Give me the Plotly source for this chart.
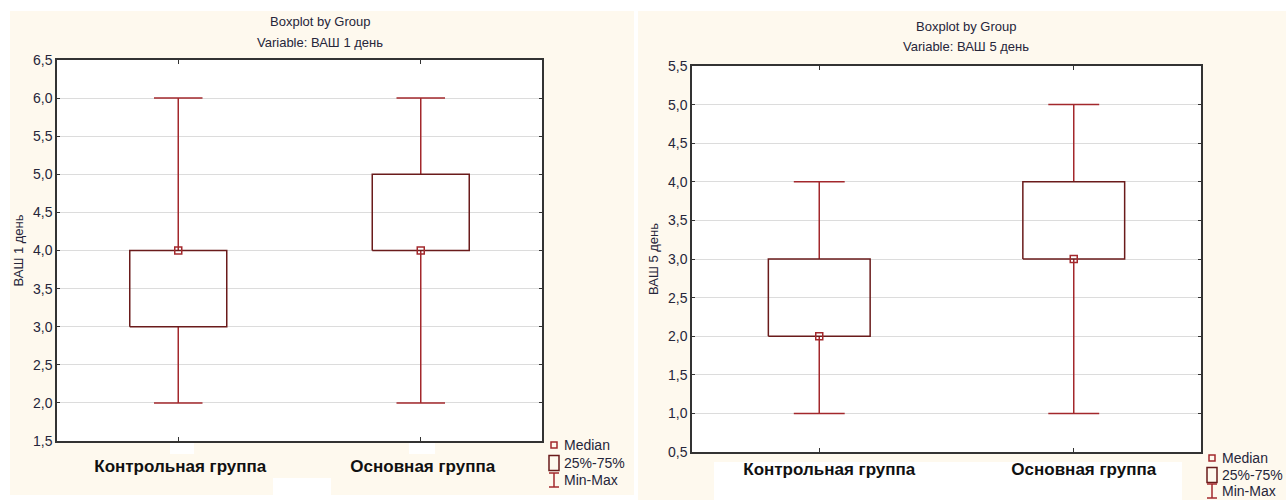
import plotly.graph_objects as go

# ---------------- data ----------------
groups = ["Контрольная группа", "Основная группа"]

# ВАШ 1 день
v1_min = [2, 2]
v1_q1 = [3, 4]
v1_med = [4, 4]
v1_q3 = [4, 5]
v1_max = [6, 6]

# ВАШ 5 день
v5_min = [1, 1]
v5_q1 = [2, 3]
v5_med = [2, 3]
v5_q3 = [3, 4]
v5_max = [4, 5]

y1_ticks = [1.5, 2.0, 2.5, 3.0, 3.5, 4.0, 4.5, 5.0, 5.5, 6.0, 6.5]
y5_ticks = [0.5, 1.0, 1.5, 2.0, 2.5, 3.0, 3.5, 4.0, 4.5, 5.0, 5.5]

# ---------------- style ----------------
W, H = 1288, 500
CREAM = "#FEF9EE"
WHISK = "#A3282C"
BOXC = "#6A1B1B"
AXC = "#333333"
GRID = "#DCDCDC"
TXT = "#26263A"
FONT = "Liberation Sans, Arial, sans-serif"
BOX_HALF = 0.2
CAP_HALF = 0.1


def px(x):
    return x / W


def py(y):
    return 1 - y / H


def fmt(v):
    return f"{v:.1f}".replace(".", ",")


fig = go.Figure()


def add_boxes(xa, ya, mins, q1s, meds, q3s, maxs):
    wx, wy, cx, cy, bx, by = [], [], [], [], [], []
    for i in range(len(groups)):
        wx += [i, i, None, i, i, None]
        wy += [mins[i], q1s[i], None, q3s[i], maxs[i], None]
        cx += [i - CAP_HALF, i + CAP_HALF, None, i - CAP_HALF, i + CAP_HALF, None]
        cy += [mins[i], mins[i], None, maxs[i], maxs[i], None]
        bx += [i - BOX_HALF, i + BOX_HALF, i + BOX_HALF, i - BOX_HALF, i - BOX_HALF, None]
        by += [q1s[i], q1s[i], q3s[i], q3s[i], q1s[i], None]
    common = dict(xaxis=xa, yaxis=ya, mode="lines", showlegend=False, hoverinfo="skip")
    fig.add_trace(go.Scatter(x=wx, y=wy, line=dict(color=WHISK, width=1.5), **common))
    fig.add_trace(go.Scatter(x=cx, y=cy, line=dict(color=WHISK, width=1.5), **common))
    fig.add_trace(go.Scatter(x=bx, y=by, line=dict(color=BOXC, width=1.5), **common))
    fig.add_trace(go.Scatter(
        x=list(range(len(groups))), y=meds, xaxis=xa, yaxis=ya, mode="markers",
        marker=dict(symbol="square-open", size=7, color=WHISK, line=dict(width=1.5)),
        showlegend=False, hoverinfo="skip"))


add_boxes("x", "y", v1_min, v1_q1, v1_med, v1_q3, v1_max)
add_boxes("x2", "y2", v5_min, v5_q1, v5_med, v5_q3, v5_max)

xcommon = dict(
    range=[-0.5, 1.5], tickvals=list(range(len(groups))), ticktext=groups,
    ticks="inside", ticklen=4, tickcolor=AXC, showline=True, linecolor=AXC,
    linewidth=1.5, mirror="ticks", showgrid=False, zeroline=False,
    tickfont=dict(family=FONT, size=17, color="#111111", weight="bold"),
    fixedrange=True, automargin=False,
)
ycommon = dict(
    dtick=0.5, ticks="inside", ticklen=3, tickcolor=AXC, showline=True,
    linecolor=AXC, linewidth=1.5, mirror="ticks", showgrid=True,
    gridcolor=GRID, gridwidth=1, zeroline=False,
    tickfont=dict(family=FONT, size=14, color=TXT), fixedrange=True,
    automargin=False,
)

fig.update_layout(
    width=W, height=H, autosize=False, margin=dict(l=0, r=0, t=0, b=0, pad=0),
    paper_bgcolor="white", plot_bgcolor="white", showlegend=False,
    xaxis=dict(domain=[px(57), px(542)], anchor="y", ticklabelstandoff=9,
               ticklabelshift=2, **xcommon),
    yaxis=dict(domain=[py(441), py(60)], anchor="x", range=[1.5, 6.5],
               tickvals=y1_ticks, ticktext=[fmt(v) for v in y1_ticks],
               title=dict(text="ВАШ 1 день", font=dict(family=FONT, size=13, color=TXT), standoff=6),
               **ycommon),
    xaxis2=dict(domain=[px(692), px(1201)], anchor="y2", ticklabelstandoff=1,
                ticklabelshift=10, **xcommon),
    yaxis2=dict(domain=[py(452), py(66)], anchor="x2", range=[0.5, 5.5],
                tickvals=y5_ticks, ticktext=[fmt(v) for v in y5_ticks],
                title=dict(text="ВАШ 5 день", font=dict(family=FONT, size=13, color=TXT), standoff=6),
                **ycommon),
)

shapes = []


def rect(x0, y0, x1, y1, fill=None, line=None, lw=1.5, layer="below"):
    shapes.append(dict(type="rect", xref="paper", yref="paper",
                       x0=px(x0), x1=px(x1), y0=py(y0), y1=py(y1),
                       fillcolor=fill if fill else "rgba(0,0,0,0)",
                       line=dict(color=line if line else "rgba(0,0,0,0)", width=lw if line else 0),
                       layer=layer))


def seg(x0, y0, x1, y1, color, lw=1.5):
    shapes.append(dict(type="line", xref="paper", yref="paper",
                       x0=px(x0), x1=px(x1), y0=py(y0), y1=py(y1),
                       line=dict(color=color, width=lw), layer="above"))


# panel backgrounds
rect(10, 11, 634, 495, fill=CREAM)
rect(638, 11, 1286, 500, fill=CREAM)
# white screenshot patches
rect(714, 462, 1182, 500, fill="white")
rect(170, 441, 194, 454, fill="white")
rect(409, 441, 435, 454, fill="white")
rect(273, 478, 331, 495, fill="white")
# plot areas
rect(57, 60, 542, 441, fill="white")
rect(692, 66, 1201, 452, fill="white")

annotations = []


def text(x, y, s, size=13, anchor="center", color=TXT):
    annotations.append(dict(xref="paper", yref="paper", x=px(x), y=py(y), text=s,
                            showarrow=False, xanchor=anchor, yanchor="middle",
                            font=dict(family=FONT, size=size, color=color)))


# titles
text(320, 21, "Boxplot by Group")
text(320, 43, "Variable: ВАШ 1 день")
text(966, 26, "Boxplot by Group")
text(966, 47, "Variable: ВАШ 5 день")


# legends
def legend(x0, ymed, ybox, ymm):
    rect(x0 + 2, ymed - 3, x0 + 8, ymed + 3, line=WHISK, lw=1.5, layer="above")
    rect(x0, ybox - 7.5, x0 + 10, ybox + 7.5, line=BOXC, lw=1.5, layer="above")
    seg(x0 + 5, ymm - 7, x0 + 5, ymm + 7, WHISK)
    seg(x0, ymm - 7, x0 + 10, ymm - 7, WHISK)
    seg(x0, ymm + 7, x0 + 10, ymm + 7, WHISK)
    text(x0 + 13, ymed, "Median", size=14, anchor="left")
    text(x0 + 13, ybox, "25%-75%", size=14, anchor="left")
    text(x0 + 13, ymm, "Min-Max", size=14, anchor="left")


legend(549, 445, 463, 480)
legend(1207, 458, 475, 491)

fig.update_layout(shapes=shapes, annotations=annotations)

post = "document.body.style.margin='0';document.body.style.overflow='hidden';"
fig.write_html("out.html", post_script=post, config={"displayModeBar": False})
